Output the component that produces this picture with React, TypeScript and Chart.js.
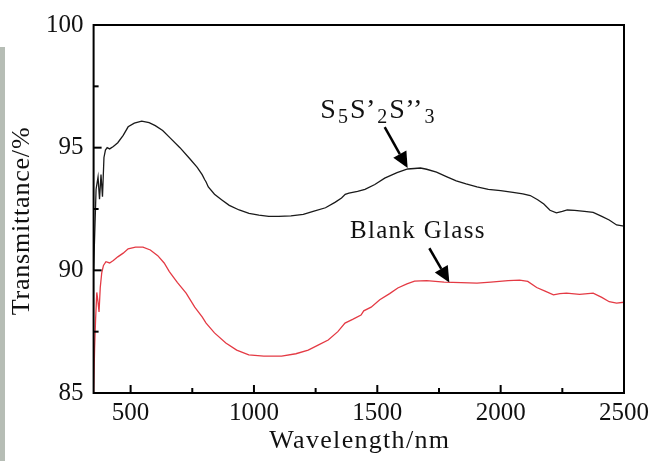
import React, { useEffect, useRef } from "react";
import { Chart, registerables } from "chart.js";

Chart.register(...registerables);

// ---- data ----
const blackWl = [350, 360, 368, 374, 380, 386, 392, 398, 405, 415, 430, 448, 470, 490, 515, 545, 575, 600, 630, 660, 700, 740, 770, 790, 800, 806, 815, 840, 870, 900, 940, 980, 1020, 1060, 1100, 1150, 1200, 1240, 1290, 1330, 1355, 1370, 1385, 1420, 1450, 1490, 1530, 1580, 1623, 1650, 1675, 1700, 1740, 1780, 1820, 1860, 1904, 1950, 2000, 2050, 2090, 2120, 2150, 2175, 2200, 2226, 2250, 2270, 2300, 2340, 2375, 2410, 2440, 2470, 2500];
const blackT = [90.0, 93.3, 93.8, 92.9, 93.9, 93.0, 94.6, 94.9, 95.0, 94.95, 95.05, 95.2, 95.5, 95.85, 96.0, 96.08, 96.02, 95.9, 95.7, 95.4, 95.0, 94.55, 94.2, 93.9, 93.7, 93.6, 93.4, 93.1, 92.87, 92.65, 92.46, 92.32, 92.25, 92.2, 92.2, 92.22, 92.28, 92.4, 92.55, 92.78, 92.95, 93.1, 93.15, 93.22, 93.3, 93.5, 93.76, 93.98, 94.13, 94.15, 94.17, 94.12, 94.0, 93.82, 93.65, 93.52, 93.4, 93.3, 93.25, 93.18, 93.12, 93.05, 92.88, 92.7, 92.45, 92.34, 92.4, 92.46, 92.44, 92.4, 92.36, 92.2, 92.05, 91.85, 91.8];

const redWl = [350, 354, 358, 363, 368, 372, 377, 383, 390, 400, 415, 430, 448, 470, 490, 520, 550, 580, 610, 636, 657, 690, 725, 760, 790, 806, 840, 886, 930, 979, 1040, 1112, 1170, 1220, 1260, 1301, 1340, 1369, 1400, 1434, 1445, 1475, 1510, 1550, 1583, 1620, 1651, 1700, 1771, 1840, 1904, 1960, 2030, 2077, 2110, 2146, 2180, 2214, 2240, 2267, 2320, 2375, 2410, 2440, 2470, 2500];
const redT = [85.0, 86.8, 88.0, 89.1, 88.7, 88.3, 89.3, 89.9, 90.2, 90.35, 90.3, 90.4, 90.55, 90.7, 90.88, 90.95, 90.95, 90.83, 90.6, 90.3, 89.95, 89.5, 89.07, 88.5, 88.1, 87.85, 87.45, 87.04, 86.75, 86.55, 86.5, 86.5, 86.6, 86.75, 86.95, 87.16, 87.5, 87.85, 88.0, 88.18, 88.35, 88.5, 88.8, 89.05, 89.28, 89.45, 89.56, 89.58, 89.52, 89.5, 89.48, 89.52, 89.58, 89.6, 89.55, 89.3, 89.15, 89.0, 89.05, 89.07, 89.02, 89.07, 88.9, 88.72, 88.66, 88.7];

const xMajorTicks = [500, 1000, 1500, 2000, 2500];
const xMinorTicks = [750, 1250, 1750, 2250];
const yMajorTicks = [85, 90, 95, 100];
const yMinorTicks = [87.5, 92.5, 97.5];

const xTitle = "Wavelength/nm";
const yTitle = "Transmittance/%";

// annotation anchors in data units
const label1 = { x: 1269, y: 96.2 };
const arrow1 = { x0: 1530, y0: 95.84, x1: 1623, y1: 94.17 };
const label2Text = "Blank Glass";
const label2 = { x: 1389, y: 91.3 };
const arrow2 = { x0: 1711, y0: 90.9, x1: 1792, y1: 89.5 };

const SERIF = '"Liberation Serif", "Times New Roman", serif';

function drawArrow(ctx: CanvasRenderingContext2D, x0: number, y0: number, x1: number, y1: number) {
  const ang = Math.atan2(y1 - y0, x1 - x0);
  const headLen = 16;
  const headW = 7.5;
  const bx = x1 - headLen * Math.cos(ang);
  const by = y1 - headLen * Math.sin(ang);
  ctx.beginPath();
  ctx.moveTo(x0, y0);
  ctx.lineTo(bx, by);
  ctx.lineWidth = 2.5;
  ctx.strokeStyle = "#000";
  ctx.stroke();
  ctx.beginPath();
  ctx.moveTo(x1, y1);
  ctx.lineTo(bx + headW * Math.sin(ang), by - headW * Math.cos(ang));
  ctx.lineTo(bx - headW * Math.sin(ang), by + headW * Math.cos(ang));
  ctx.closePath();
  ctx.fillStyle = "#000";
  ctx.fill();
}

const decor = {
  id: "decor",
  afterDraw(chart: any) {
    const { ctx, chartArea: a, scales } = chart;
    const xs = scales.x;
    const ys = scales.y;
    ctx.save();
    ctx.strokeStyle = "#000";
    ctx.lineWidth = 2;
    const tick = (len: number, vals: number[], axis: "x" | "y") => {
      vals.forEach((v) => {
        ctx.beginPath();
        if (axis === "x") {
          const px = xs.getPixelForValue(v);
          ctx.moveTo(px, a.bottom);
          ctx.lineTo(px, a.bottom - len);
        } else {
          const py = ys.getPixelForValue(v);
          ctx.moveTo(a.left, py);
          ctx.lineTo(a.left + len, py);
        }
        ctx.stroke();
      });
    };
    tick(8, xMajorTicks, "x");
    tick(5, xMinorTicks, "x");
    tick(8, yMajorTicks, "y");
    tick(5, yMinorTicks, "y");
    ctx.lineWidth = 2;
    ctx.strokeRect(a.left, a.top, a.right - a.left, a.bottom - a.top);

    // axis titles
    ctx.fillStyle = "#111";
    ctx.font = `26px ${SERIF}`;
    (ctx as any).letterSpacing = "1.3px";
    ctx.textAlign = "center";
    ctx.textBaseline = "alphabetic";
    ctx.fillText(xTitle, (a.left + a.right) / 2 + 1, 448);
    ctx.save();
    ctx.translate(29, 221);
    ctx.rotate(-Math.PI / 2);
    (ctx as any).letterSpacing = "0.8px";
    ctx.fillText(yTitle, 0, 0);
    ctx.restore();

    // label 1: S5S'2S''3
    ctx.textAlign = "left";
    (ctx as any).letterSpacing = "0.5px";
    let lx = xs.getPixelForValue(label1.x);
    const ly = ys.getPixelForValue(label1.y);
    const parts: [string, boolean][] = [["S", false], ["5", true], ["S\u2019", false], ["2", true], ["S\u2019\u2019", false], ["3", true]];
    parts.forEach(([t, sub]) => {
      ctx.font = sub ? `20px ${SERIF}` : `28px ${SERIF}`;
      ctx.fillText(t, lx, sub ? ly + 5 : ly);
      lx += ctx.measureText(t).width + 1.5;
    });
    // label 2
    ctx.font = `25px ${SERIF}`;
    (ctx as any).letterSpacing = "1.3px";
    ctx.fillText(label2Text, xs.getPixelForValue(label2.x), ys.getPixelForValue(label2.y));
    (ctx as any).letterSpacing = "0px";

    drawArrow(ctx, xs.getPixelForValue(arrow1.x0), ys.getPixelForValue(arrow1.y0), xs.getPixelForValue(arrow1.x1), ys.getPixelForValue(arrow1.y1));
    drawArrow(ctx, xs.getPixelForValue(arrow2.x0), ys.getPixelForValue(arrow2.y0), xs.getPixelForValue(arrow2.x1), ys.getPixelForValue(arrow2.y1));
    ctx.restore();
  },
};

export default function App() {
  const ref = useRef<HTMLCanvasElement | null>(null);
  useEffect(() => {
    if (!ref.current) return;
    const tickFont = { family: SERIF, size: 25 };
    const chart = new Chart(ref.current, {
      type: "line",
      data: {
        datasets: [
          {
            label: "S5S'2S''3",
            data: blackWl.map((w, i) => ({ x: w, y: blackT[i] })),
            borderColor: "#1a1a1a",
            borderWidth: 1.3,
            pointRadius: 0,
            tension: 0,
          },
          {
            label: "Blank Glass",
            data: redWl.map((w, i) => ({ x: w, y: redT[i] })),
            borderColor: "#e43a44",
            borderWidth: 1.3,
            pointRadius: 0,
            tension: 0,
          },
        ],
      },
      options: {
        responsive: false,
        animation: false,
        devicePixelRatio: 1,
        layout: { padding: { left: 0, top: 25, right: 26, bottom: 0 } },
        plugins: { legend: { display: false }, tooltip: { enabled: false } },
        scales: {
          x: {
            type: "linear",
            min: 350,
            max: 2500,
            grid: { display: false, drawTicks: false },
            border: { display: false },
            ticks: {
              font: tickFont,
              color: "#111",
              padding: 5,
              maxRotation: 0,
              autoSkip: false,
              callback: (v: any) => String(v),
            },
            afterBuildTicks: (s: any) => {
              s.ticks = xMajorTicks.map((v) => ({ value: v }));
            },
            afterFit: (s: any) => {
              s.height = 68;
            },
          },
          y: {
            type: "linear",
            min: 85,
            max: 100,
            grid: { display: false, drawTicks: false },
            border: { display: false },
            ticks: { font: tickFont, color: "#111", padding: 10, autoSkip: false, callback: (v: any) => String(v) },
            afterBuildTicks: (s: any) => {
              s.ticks = yMajorTicks.map((v) => ({ value: v }));
            },
            afterFit: (s: any) => {
              s.width = 93.6;
            },
          },
        },
      } as any,
      plugins: [decor],
    });
    return () => chart.destroy();
  }, []);
  return (
    <div style={{ position: "fixed", left: 0, top: 0, width: 654, height: 461, background: "#fff" }}>
      <canvas ref={ref} width={654} height={461} style={{ width: 654, height: 461, display: "block" }} />
      <div style={{ position: "absolute", left: 0, top: 47, width: 5, height: 414, background: "#b6bdb5" }} />
    </div>
  );
}
